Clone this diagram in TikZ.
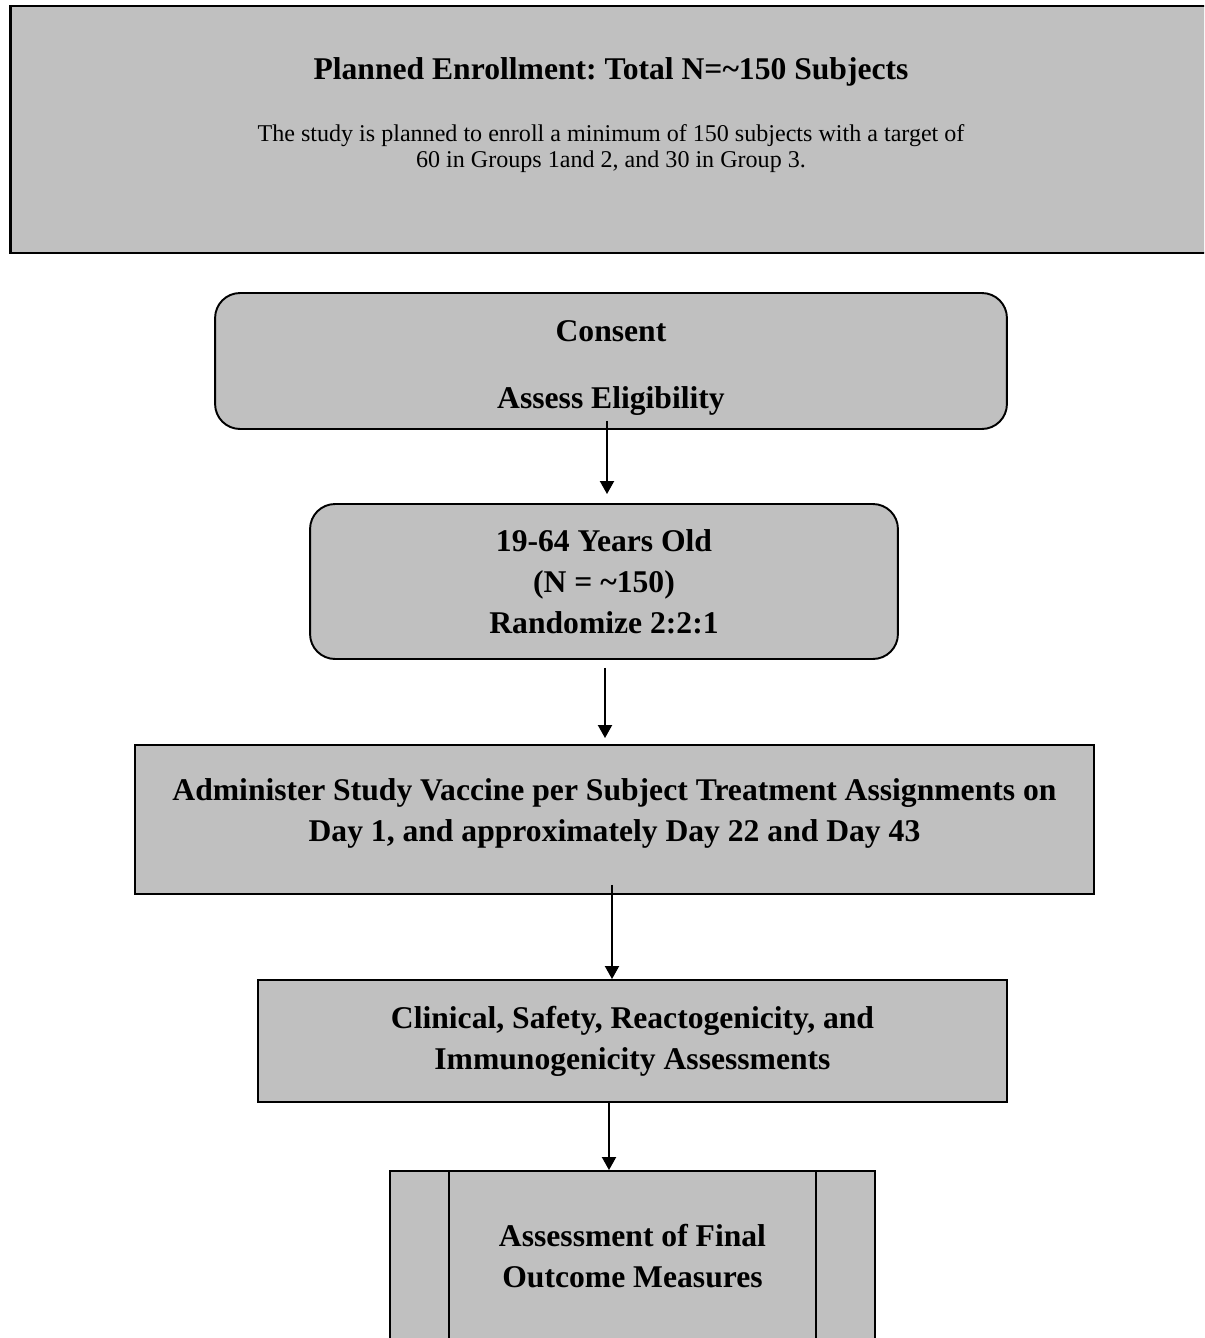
\documentclass[tikz,border=0pt]{standalone}
\usepackage{fontspec}
\setmainfont{Liberation Serif}
\frenchspacing
\usetikzlibrary{arrows.meta,calc}
\definecolor{boxgray}{HTML}{C0C0C0}
\begin{document}
\begin{tikzpicture}[x = 0.02cm, y = -0.02cm, line width = 1.1pt,
                      box/.style = {draw, fill = boxgray, align = center, inner sep = 0pt,
                                    font = \fontsize{18}{23.3}\selectfont\bfseries},
                      roundbox/.style = {box, rounded corners = 0.5cm},
                      boxtext/.style = {align = center, font = \fontsize{18}{23.3}\selectfont\bfseries},
                      arr/.style = {-{Triangle[width = 0.28cm, length = 0.26cm]}}]
    \useasboundingbox (0, 0) rectangle (1204, 1338);
    \clip (0, 0) rectangle (1204, 1338);
    \node [box, line width = 1.6pt, minimum width = 24.08cm, minimum height = 4.94cm] (plan) at (612, 129.5){};
    \node [boxtext] (title) at (611, 72){Planned Enrollment: Total N=\textasciitilde150 Subjects};
    \node [align = center, font = \fontsize{13.7}{14.8}\selectfont] (target) at (611, 149){The study is planned to enroll a minimum of 150 subjects with a target of\\60 in Groups 1and 2, and 30 in Group 3.};

    \node [roundbox, minimum width = 15.84cm, minimum height = 2.72cm] (consent) at (611, 361){};
    \node [boxtext] (consenttext) at (611, 368){Consent\\[0.52cm]Assess Eligibility};
    \node [roundbox, minimum width = 11.76cm, minimum height = 3.1cm] (age) at (604, 581.5){19-64 Years Old\\(N = \textasciitilde150)\\Randomize 2:2:1};
    \node [box, minimum width = 19.18cm, minimum height = 2.98cm] (admin) at (614.5, 819.5){};
    \node [boxtext] (admintext) at (614.5, 813.5){Administer Study Vaccine per Subject Treatment Assignments on\\Day 1, and approximately Day 22 and Day 43};
    \node [box, minimum width = 14.98cm, minimum height = 2.44cm] (clinical) at (632.5, 1041){Clinical, Safety, Reactogenicity, and\\Immunogenicity Assessments};
    \node [box, minimum width = 9.7cm, minimum height = 3.4cm] (final) at (632.5, 1256){Assessment of Final\\Outcome Measures};

    \draw ($(final.north west)+(60, 0)$) -- ($(final.south west)+(60, 0)$);
    \draw ($(final.north east)+(-60, 0)$) -- ($(final.south east)+(-60, 0)$);

    \draw [arr] ($(consent.south)+(-4, -9)$) -- ($(age.north)+(3, -9)$);
    \draw [arr] ($(age.south)+(1, 8)$) -- ($(admin.north)+(-9.5, -6)$);
    \draw [arr] ($(admin.south)+(-2.5, -10)$) -- ($(clinical.north)+(-20.5, 0)$);
    \draw [arr] ($(clinical.south)+(-23.5, -2)$) -- ($(final.north)+(-23.5, 0)$);
\end{tikzpicture}
\end{document}
